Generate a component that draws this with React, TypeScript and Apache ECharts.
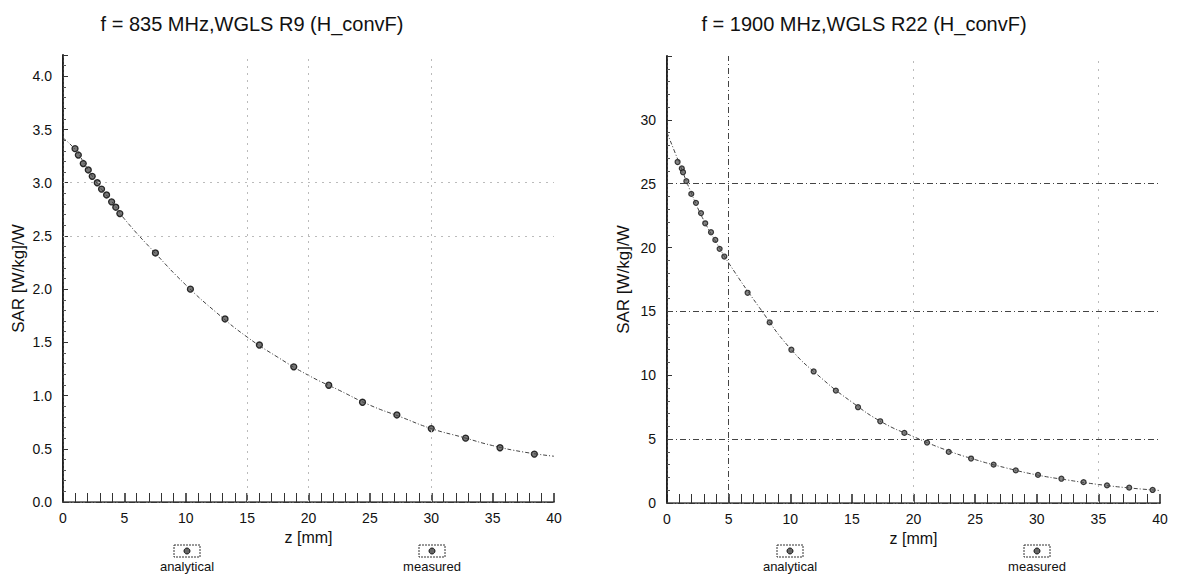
import React, { useEffect, useRef } from "react";
import * as echarts from "echarts";

// ---- Left chart: f = 835 MHz ----
const leftTitle = "f = 835 MHz,WGLS R9 (H_convF)";
const leftMeasZ = [0.98, 1.25, 1.65, 2.06, 2.38, 2.79, 3.14, 3.55, 3.96, 4.3, 4.63, 7.53, 10.38, 13.2, 16.0, 18.8, 21.65, 24.4, 27.2, 30.0, 32.8, 35.6, 38.4];
const leftMeasV = [3.32, 3.26, 3.18, 3.12, 3.06, 3.0, 2.94, 2.885, 2.82, 2.77, 2.71, 2.34, 2.0, 1.72, 1.475, 1.27, 1.097, 0.937, 0.818, 0.69, 0.6, 0.51, 0.45];
const leftLineZ = [0, 1, 2, 3, 4, 5, 7.5, 10, 12.5, 15, 17.5, 20, 22.5, 25, 27.5, 30, 32.5, 35, 37.5, 40];
const leftLineV = [3.42, 3.31, 3.13, 2.96, 2.82, 2.66, 2.34, 2.04, 1.78, 1.55, 1.36, 1.19, 1.05, 0.91, 0.8, 0.69, 0.61, 0.53, 0.47, 0.43];
const leftGridY = [3.0, 2.5];
const leftGridX = [15, 20, 30];

// ---- Right chart: f = 1900 MHz ----
const rightTitle = "f = 1900 MHz,WGLS R22 (H_convF)";
const rightMeasZ = [0.86, 1.2, 1.3, 1.57, 1.97, 2.35, 2.76, 3.1, 3.57, 3.92, 4.27, 4.65, 6.54, 8.33, 10.09, 11.9, 13.7, 15.5, 17.3, 19.26, 21.1, 22.86, 24.67, 26.5, 28.3, 30.1, 32.0, 33.8, 35.7, 37.5, 39.4];
const rightMeasV = [26.7, 26.2, 25.9, 25.2, 24.2, 23.5, 22.7, 21.9, 21.2, 20.6, 19.9, 19.3, 16.46, 14.14, 12.0, 10.3, 8.8, 7.5, 6.4, 5.49, 4.73, 4.0, 3.48, 3.0, 2.55, 2.2, 1.9, 1.63, 1.38, 1.2, 1.02];
const rightLineZ = [0, 1, 2, 3, 4, 5, 7.5, 10, 12.5, 15, 17.5, 20, 22.5, 25, 27.5, 30, 32.5, 35, 37.5, 40];
const rightLineV = [29.0, 26.6, 24.2, 22.1, 20.4, 18.8, 15.3, 12.1, 9.8, 7.9, 6.3, 5.2, 4.2, 3.4, 2.75, 2.2, 1.8, 1.45, 1.18, 0.98];
const rightGridY = [5, 15, 25];
const rightGridXStrong = [5];
const rightGridXFaint = [20, 35];

const xName = "z [mm]";
const yName = "SAR [W/kg]/W";
const legendNames = ["analytical", "measured"];

const FONT = "'Liberation Sans', Arial, sans-serif";
const zip = (a: number[], b: number[]) => a.map((v, i) => [v, b[i]]);

function bottomX(gridIndex: number) {
  return {
    type: "value",
    gridIndex,
    min: 0,
    max: 40,
    interval: 5,
    position: "bottom",
    name: xName,
    nameLocation: "middle",
    nameGap: 23,
    nameTextStyle: { fontFamily: FONT, fontSize: 16, color: "#111" },
    axisLine: { show: true, lineStyle: { color: "#777", width: 2 } },
    axisTick: { show: true, inside: true, length: 9, lineStyle: { color: "#222", width: 1.5 } },
    minorTick: { show: true, splitNumber: 5, length: 9, lineStyle: { color: "#333", width: 1 } },
    axisLabel: { fontFamily: FONT, fontSize: 14, color: "#111", margin: 9 },
    splitLine: { show: false },
  };
}
function topX(gridIndex: number) {
  return {
    type: "value",
    gridIndex,
    min: 0,
    max: 40,
    position: "top",
    axisLine: { show: true, lineStyle: { color: "#333", width: 1, type: [6, 2, 1, 2] } },
    axisTick: { show: false },
    axisLabel: { show: false },
    splitLine: { show: false },
  };
}
function leftY(gridIndex: number, max: number, interval: number, digits: number, gap: number) {
  return {
    type: "value",
    gridIndex,
    min: 0,
    max,
    interval,
    position: "left",
    name: yName,
    nameLocation: "middle",
    nameGap: gap,
    nameTextStyle: { fontFamily: FONT, fontSize: 17, color: "#111" },
    axisLine: { show: true, lineStyle: { color: "#222", width: 2 } },
    axisTick: { show: true, inside: true, length: 5, lineStyle: { color: "#333" } },
    minorTick: { show: true, splitNumber: 5, length: 3, lineStyle: { color: "#555" } },
    axisLabel: {
      fontFamily: FONT,
      fontSize: 14,
      color: "#111",
      margin: 11,
      showMaxLabel: false,
      formatter: (v: number) => v.toFixed(digits),
    },
    splitLine: { show: false },
  };
}
function rightY(gridIndex: number, max: number) {
  return {
    type: "value",
    gridIndex,
    min: 0,
    max,
    position: "right",
    axisLine: { show: true, lineStyle: { color: "#444", width: 1, type: [2, 2] } },
    axisTick: { show: false },
    axisLabel: { show: false },
    splitLine: { show: false },
  };
}

function markList(xs: number[], ys: number[], color: string, type: number[]) {
  const lineStyle = { color, width: 1, type };
  return [
    ...xs.map((x) => ({ xAxis: x, lineStyle })),
    ...ys.map((y) => ({ yAxis: y, lineStyle })),
  ];
}
function gridMarks(data: any[]) {
  return { silent: true, symbol: "none", label: { show: false }, data };
}

function legendItem(cx: number, label: string) {
  return [
    {
      type: "rect",
      shape: { x: cx - 13, y: 545, width: 26, height: 12 },
      style: { fill: "#fff", stroke: "#333", lineWidth: 1, lineDash: [2, 1] },
    },
    { type: "circle", shape: { cx, cy: 551, r: 3 }, style: { fill: "#666", stroke: "#111", lineWidth: 1 } },
    {
      type: "text",
      x: cx,
      y: 566,
      style: { text: label, fontFamily: FONT, fontSize: 13, fill: "#111", textAlign: "center", textVerticalAlign: "middle" },
    },
  ];
}

export default function App() {
  const ref = useRef<HTMLDivElement>(null);
  useEffect(() => {
    document.body.style.margin = "0";
    const chart = echarts.init(ref.current!, null, { renderer: "svg" });
    const lineStyle = { color: "#444", width: 1, type: [4, 2, 1, 2] };
    chart.setOption({
      animation: false,
      backgroundColor: "#fff",
      grid: [
        { left: 63, top: 55, width: 491, height: 447, containLabel: false },
        { left: 667, top: 56, width: 493, height: 447, containLabel: false },
      ],
      xAxis: [bottomX(0), topX(0), bottomX(1), topX(1)],
      yAxis: [leftY(0, 4.2, 0.5, 1, 36), rightY(0, 4.2), leftY(1, 35, 5, 0, 35), rightY(1, 35)],
      series: [
        {
          name: legendNames[0],
          type: "line",
          xAxisIndex: 0,
          yAxisIndex: 0,
          data: zip(leftLineZ, leftLineV),
          showSymbol: false,
          smooth: true,
          lineStyle,
          markLine: gridMarks(markList(leftGridX, leftGridY, "#bbb", [2, 5])),
        },
        {
          name: legendNames[1],
          type: "scatter",
          xAxisIndex: 0,
          yAxisIndex: 0,
          data: zip(leftMeasZ, leftMeasV),
          symbol: "circle",
          symbolSize: 6,
          itemStyle: { color: "#555", borderColor: "#000", borderWidth: 1.3 },
        },
        {
          name: legendNames[0],
          type: "line",
          xAxisIndex: 2,
          yAxisIndex: 2,
          data: zip(rightLineZ, rightLineV),
          showSymbol: false,
          smooth: true,
          lineStyle,
          markLine: gridMarks([
            ...markList(rightGridXStrong, rightGridY, "#444", [6, 3, 1, 3]),
            ...markList(rightGridXFaint, [], "#bbb", [2, 6]),
          ]),
        },
        {
          name: legendNames[1],
          type: "scatter",
          xAxisIndex: 2,
          yAxisIndex: 2,
          data: zip(rightMeasZ, rightMeasV),
          symbol: "circle",
          symbolSize: 5,
          itemStyle: { color: "#666", borderColor: "#111", borderWidth: 1.2 },
        },
      ],
      graphic: [
        {
          type: "text",
          x: 252,
          y: 24,
          style: { text: leftTitle, fontFamily: FONT, fontSize: 20, fill: "#111", textAlign: "center", textVerticalAlign: "middle" },
        },
        {
          type: "text",
          x: 864,
          y: 24,
          style: { text: rightTitle, fontFamily: FONT, fontSize: 20, fill: "#111", textAlign: "center", textVerticalAlign: "middle" },
        },
        ...legendItem(187, legendNames[0]),
        ...legendItem(432, legendNames[1]),
        ...legendItem(790, legendNames[0]),
        ...legendItem(1037, legendNames[1]),
      ],
    });
    return () => chart.dispose();
  }, []);
  return <div ref={ref} style={{ width: 1179, height: 581 }} />;
}
